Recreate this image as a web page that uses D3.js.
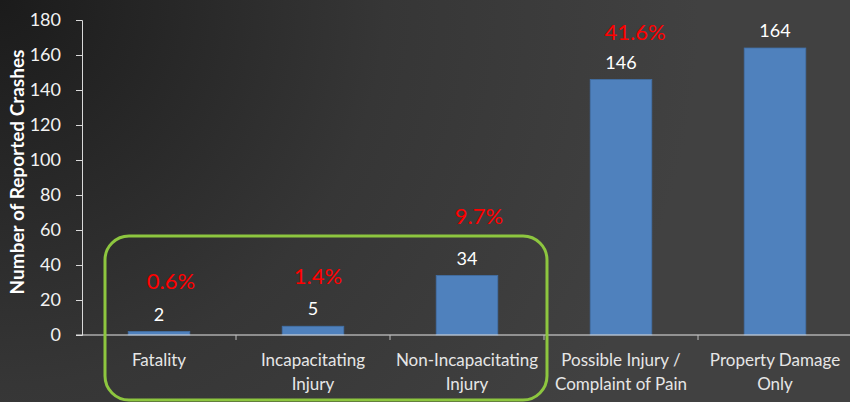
<!DOCTYPE html>
<html>
<head>
<meta charset="utf-8">
<script src="https://cdn.jsdelivr.net/npm/d3@7"></script>
<style>
  html, body { margin: 0; padding: 0; background: #2a2a2a; }
  svg { display: block; font-family: Lato, "Open Sans", sans-serif; }
</style>
</head>
<body>
<svg id="chart" width="850" height="402"></svg>
<script>
// Crash severity counts
const categories = [
  ["Fatality"],
  ["Incapacitating", "Injury"],
  ["Non-Incapacitating", "Injury"],
  ["Possible Injury /", "Complaint of Pain"],
  ["Property Damage", "Only"]
];
const crashes = [2, 5, 34, 146, 164];
const shareLabels = ["0.6%", "1.4%", "9.7%", "41.6%", null];
const yTicks = [0, 20, 40, 60, 80, 100, 120, 140, 160, 180];

// Hand-placed offsets (px) of the share labels relative to each bar top / centre
const shareDx = [12, 5, 12, 14, 0];
const shareDy = [43, 42, 52, 40, 0];

const W = 850, H = 402;
const margin = { left: 82, right: -2, top: 20, bottom: 67 };

const svg = d3.select("#chart");
const defs = svg.append("defs");
const bg = defs.append("radialGradient")
  .attr("id", "bg").attr("gradientUnits", "userSpaceOnUse")
  .attr("cx", 0).attr("cy", 0).attr("r", 700);
bg.append("stop").attr("offset", 0).attr("stop-color", "#1b1b1b");
bg.append("stop").attr("offset", 0.55).attr("stop-color", "#363636");
bg.append("stop").attr("offset", 1).attr("stop-color", "#414141");
svg.append("rect").attr("width", W).attr("height", H).attr("fill", "url(#bg)");

const x = d3.scaleBand()
  .domain(d3.range(categories.length))
  .range([margin.left, W - margin.right])
  .paddingInner(0.6).paddingOuter(0.3);
const y = d3.scaleLinear().domain([0, 180]).range([H - margin.bottom, margin.top]);
const step = x.step();
const x0 = margin.left;

// Y axis
const yAxis = svg.append("g")
  .attr("transform", `translate(${margin.left},0)`)
  .call(d3.axisLeft(y).tickValues(yTicks).tickSize(6).tickPadding(15));
yAxis.select(".domain").attr("stroke", "#d9d9d9");
yAxis.selectAll(".tick line").attr("stroke", "#d9d9d9");
yAxis.selectAll(".tick text")
  .attr("fill", "#f2f2f2").attr("font-size", 18)
  .attr("font-family", "Lato, sans-serif");

// Bars
svg.append("g").selectAll("rect").data(crashes).join("rect")
  .attr("x", (d, i) => x(i)).attr("width", x.bandwidth())
  .attr("y", d => y(d)).attr("height", d => y(0) - y(d))
  .attr("fill", "#4f81bd").attr("stroke", "#416fa6").attr("stroke-width", 0.8);

// X axis line and category boundary ticks
svg.append("line")
  .attr("x1", margin.left - 6).attr("x2", W)
  .attr("y1", y(0)).attr("y2", y(0))
  .attr("stroke", "#e6e6e6").attr("stroke-width", 1.2);
svg.append("g").selectAll("line").data(d3.range(1, categories.length + 1)).join("line")
  .attr("x1", i => x0 + i * step).attr("x2", i => x0 + i * step)
  .attr("y1", y(0)).attr("y2", y(0) + 5)
  .attr("stroke", "#bfbfbf");

// Category labels
const cat = svg.append("g").selectAll("text").data(categories).join("text")
  .attr("x", (d, i) => x(i) + x.bandwidth() / 2)
  .attr("y", y(0) + 31)
  .attr("text-anchor", "middle").attr("fill", "#e6e6e6").attr("font-size", 17);
cat.selectAll("tspan").data(d => d).join("tspan")
  .attr("x", function () { return this.parentNode.getAttribute("x"); })
  .attr("dy", (d, j) => j === 0 ? 0 : 24)
  .text(d => d);

// Value labels
svg.append("g").selectAll("text").data(crashes).join("text")
  .attr("x", (d, i) => x(i) + x.bandwidth() / 2)
  .attr("y", d => y(d) - 11)
  .attr("text-anchor", "middle").attr("fill", "#ffffff").attr("font-size", 18)
  .text(d => d);

// Share-of-total labels
svg.append("g").selectAll("text")
  .data(crashes.map((v, i) => ({ v, i, label: shareLabels[i] })).filter(d => d.label))
  .join("text")
  .attr("x", d => x(d.i) + x.bandwidth() / 2 + shareDx[d.i])
  .attr("y", d => y(d.v) - shareDy[d.i])
  .attr("text-anchor", "middle").attr("fill", "#ff0000").attr("font-size", 22)
  .text(d => d.label);

// Highlight around the three injury-severity categories
svg.append("rect")
  .attr("x", 105).attr("y", 236).attr("width", 442).attr("height", 164)
  .attr("rx", 24).attr("ry", 24)
  .attr("fill", "none").attr("stroke", "#8dc63f").attr("stroke-width", 3);

// Y axis title
svg.append("text")
  .attr("transform", `translate(24,172) rotate(-90)`)
  .attr("text-anchor", "middle").attr("fill", "#ffffff")
  .attr("font-size", 19).attr("font-weight", "bold")
  .text("Number of Reported Crashes");
</script>
</body>
</html>
